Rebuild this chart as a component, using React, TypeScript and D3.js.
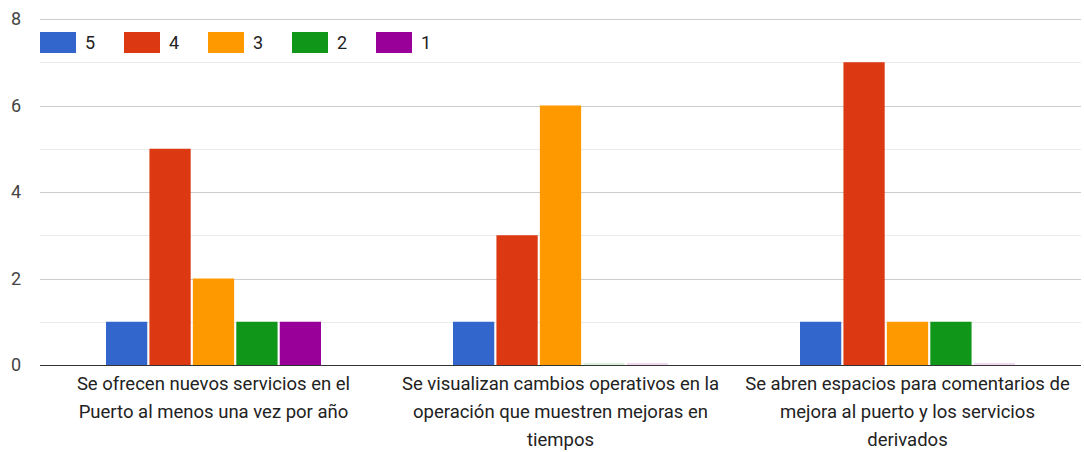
import { useEffect, useRef } from 'react'
import * as d3 from 'd3'

const categories = [
  ['Se ofrecen nuevos servicios en el', 'Puerto al menos una vez por año'],
  ['Se visualizan cambios operativos en la', 'operación que muestren mejoras en', 'tiempos'],
  ['Se abren espacios para comentarios de', 'mejora al puerto y los servicios', 'derivados'],
]
const seriesNames = ['5', '4', '3', '2', '1']
const seriesColors = ['#3366cc', '#dc3912', '#ff9900', '#109618', '#990099']
const values = [
  [1, 5, 2, 1, 1],
  [1, 3, 6, 0, 0],
  [1, 7, 1, 1, 0],
]
const yTicks = [0, 2, 4, 6, 8]
const yMinor = [1, 3, 5, 7]

function App() {
  const svgRef = useRef<SVGSVGElement>(null)

  useEffect(() => {
    const width = 1084
    const height = 452
    const margin = { top: 19, right: 3, bottom: 87, left: 40 }

    const svg = d3.select(svgRef.current)
      .attr('width', width)
      .attr('height', height)
    svg.selectAll('*').remove()

    const y = d3.scaleLinear()
      .domain([0, 8])
      .range([height - margin.bottom, margin.top])

    const x0 = d3.scaleBand<number>()
      .domain(categories.map((_, i) => i))
      .range([margin.left, width - margin.right])
      .paddingInner(0)
      .paddingOuter(0)

    const groupW = 215
    const x1 = d3.scaleBand<number>()
      .domain(seriesNames.map((_, i) => i))
      .range([0, groupW])
      .paddingInner(0.05)

    // gridlines
    svg.append('g')
      .selectAll('line')
      .data(yMinor)
      .join('line')
      .attr('x1', margin.left)
      .attr('x2', width - margin.right)
      .attr('y1', d => Math.round(y(d)) + 0.5)
      .attr('y2', d => Math.round(y(d)) + 0.5)
      .attr('stroke', '#ebebeb')
    svg.append('g')
      .selectAll('line')
      .data(yTicks.filter(d => d > 0))
      .join('line')
      .attr('x1', margin.left)
      .attr('x2', width - margin.right)
      .attr('y1', d => Math.round(y(d)) + 0.5)
      .attr('y2', d => Math.round(y(d)) + 0.5)
      .attr('stroke', '#cccccc')

    svg.append('g')
      .selectAll('text')
      .data(yTicks)
      .join('text')
      .attr('x', 21)
      .attr('y', d => y(d))
      .attr('dy', '0.35em')
      .attr('text-anchor', 'end')
      .attr('font-family', 'Roboto, Arial, sans-serif')
      .attr('font-size', 18)
      .attr('fill', '#444')
      .text(d => d)

    // bars
    const groups = svg.append('g')
      .selectAll('g')
      .data(values)
      .join('g')
      .attr('transform', (_, i) => `translate(${x0(i)! + (x0.bandwidth() - groupW) / 2},0)`)

    groups.selectAll('rect')
      .data(d => d)
      .join('rect')
      .attr('x', (_, j) => x1(j)!)
      .attr('width', x1.bandwidth())
      .attr('y', d => d > 0 ? y(d) : y(0) - 2)
      .attr('height', d => d > 0 ? y(0) - y(d) : 2)
      .attr('fill', (_, j) => seriesColors[j])
      .attr('fill-opacity', d => d > 0 ? 1 : 0.15)

    // baseline
    svg.append('line')
      .attr('x1', margin.left)
      .attr('x2', width - margin.right)
      .attr('y1', y(0) + 0.5)
      .attr('y2', y(0) + 0.5)
      .attr('stroke', '#333')
      .attr('stroke-width', 1.2)

    // category labels
    const labels = svg.append('g')
      .selectAll('text')
      .data(categories)
      .join('text')
      .attr('x', (_, i) => x0(i)! + x0.bandwidth() / 2)
      .attr('y', y(0) + 25)
      .attr('text-anchor', 'middle')
      .attr('font-family', 'Roboto, Arial, sans-serif')
      .attr('font-size', 18.5)
      .attr('fill', '#222')
    labels.selectAll('tspan')
      .data(d => d)
      .join('tspan')
      .attr('x', function () { return (this.parentNode as SVGTextElement).getAttribute('x') })
      .attr('dy', (_, k) => k === 0 ? 0 : 28)
      .text(d => d)

    // legend
    const legend = svg.append('g')
      .selectAll('g')
      .data(seriesNames)
      .join('g')
      .attr('transform', (_, i) => `translate(${40 + i * 84},32)`)
    legend.append('rect')
      .attr('width', 36)
      .attr('height', 21)
      .attr('fill', (_, i) => seriesColors[i])
    legend.append('text')
      .attr('x', 45)
      .attr('y', 11)
      .attr('dy', '0.35em')
      .attr('font-family', 'Roboto, Arial, sans-serif')
      .attr('font-size', 18)
      .attr('fill', '#222')
      .text(d => d)
  }, [])

  return (
    <div style={{ position: 'absolute', left: 0, top: 0 }}>
      <svg ref={svgRef}></svg>
    </div>
  )
}

export default App
